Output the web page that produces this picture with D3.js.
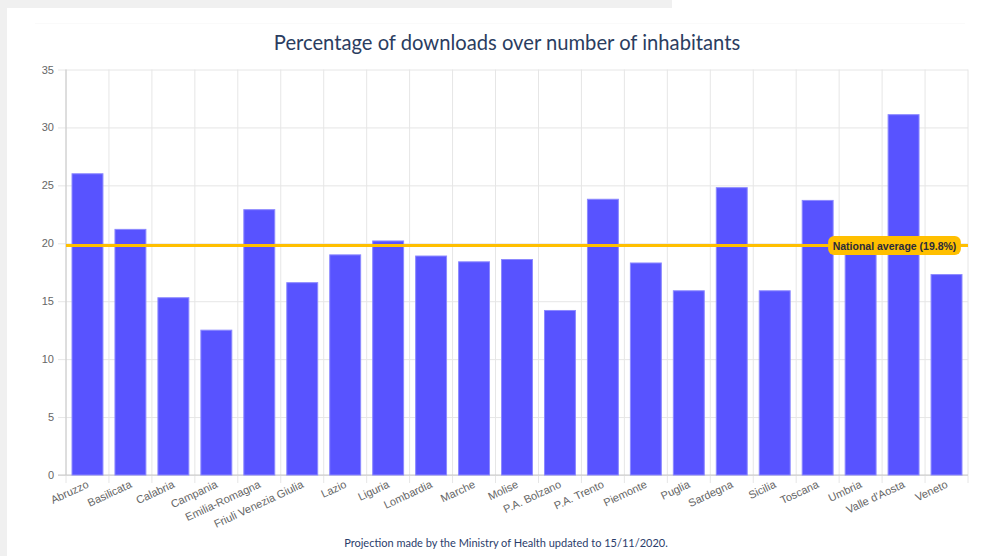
<!DOCTYPE html>
<html>
<head>
<meta charset="utf-8">
<script src="https://cdn.jsdelivr.net/npm/d3@7"></script>
<style>
  html, body { margin: 0; padding: 0; background: #ffffff; }
  svg { display: block; }
</style>
</head>
<body>
<svg id="chart" width="999" height="556"></svg>
<script>
const categories = ["Abruzzo","Basilicata","Calabria","Campania","Emilia-Romagna","Friuli Venezia Giulia","Lazio","Liguria","Lombardia","Marche","Molise","P.A. Bolzano","P.A. Trento","Piemonte","Puglia","Sardegna","Sicilia","Toscana","Umbria","Valle d'Aosta","Veneto"];
const values = [26.0, 21.2, 15.3, 12.5, 22.9, 16.6, 19.0, 20.2, 18.9, 18.4, 18.6, 14.2, 23.8, 18.3, 15.9, 24.8, 15.9, 23.7, 19.3, 31.1, 17.3];
const yTicks = [0, 5, 10, 15, 20, 25, 30, 35];
const nationalAverage = 19.8;
const averageLabel = "National average (19.8%)";
const titleText = "Percentage of downloads over number of inhabitants";
const footerText = "Projection made by the Ministry of Health updated to 15/11/2020.";

const svg = d3.select("#chart");
const W = 999, H = 556;
const plot = { left: 66, right: 968, top: 69.5, bottom: 475 };

// page background pieces
svg.append("rect").attr("x", 0).attr("y", 0).attr("width", W).attr("height", H).attr("fill", "#ffffff");
svg.append("rect").attr("x", 0).attr("y", 0).attr("width", 672).attr("height", 8).attr("fill", "#f0f0f0");
svg.append("rect").attr("x", 0).attr("y", 0).attr("width", 7).attr("height", H).attr("fill", "#f0f0f0");
svg.append("line").attr("x1", 35).attr("x2", 965).attr("y1", 23.5).attr("y2", 23.5).attr("stroke", "#fafafa").attr("stroke-width", 1);

const x = d3.scaleBand().domain(categories).range([plot.left, plot.right]).paddingInner(0.28).paddingOuter(0.14);
const y = d3.scaleLinear().domain([0, 35]).range([plot.bottom, plot.top]);
const step = x.step();

// title
svg.append("text").attr("x", 507).attr("y", 50).attr("text-anchor", "middle")
  .attr("font-family", "Lato, 'Noto Sans', sans-serif").attr("font-size", 20.2)
  .attr("fill", "#2b3d5f").text(titleText);

// horizontal grid + y ticks
const yAxis = d3.axisLeft(y).tickValues(yTicks).tickSize(plot.right - plot.left + 8).tickPadding(4).tickFormat(d3.format("d"));
const gy = svg.append("g").attr("transform", `translate(${plot.right},0)`).call(yAxis);
gy.select(".domain").remove();
gy.selectAll(".tick line").attr("stroke", "#e6e6e6").attr("stroke-width", 1);
gy.selectAll(".tick text").attr("font-family", "Arial, 'Liberation Sans', sans-serif").attr("font-size", 11).attr("fill", "#666666");

// vertical grid lines at category boundaries
const boundaries = d3.range(categories.length + 1).map(i => plot.left + i * step);
svg.append("g").selectAll("line").data(boundaries).join("line")
  .attr("x1", d => d).attr("x2", d => d)
  .attr("y1", plot.top).attr("y2", plot.bottom + 8)
  .attr("stroke", "#e6e6e6").attr("stroke-width", 1);

// axis lines
svg.append("line").attr("x1", plot.left).attr("x2", plot.left).attr("y1", plot.top).attr("y2", plot.bottom)
  .attr("stroke", "#c8c8c8").attr("stroke-width", 1);
svg.append("line").attr("x1", plot.left - 8).attr("x2", plot.right).attr("y1", plot.bottom).attr("y2", plot.bottom)
  .attr("stroke", "#c8c8c8").attr("stroke-width", 1);

// bars
svg.append("g").selectAll("rect").data(categories).join("rect")
  .attr("x", d => x(d))
  .attr("y", (d, i) => y(values[i]))
  .attr("width", x.bandwidth())
  .attr("height", (d, i) => y(0) - y(values[i]))
  .attr("fill", "#5853ff")
  .attr("stroke", "#8c89ff")
  .attr("stroke-width", 1);

// x labels
svg.append("g").selectAll("text").data(categories).join("text")
  .attr("transform", d => `translate(${x(d) + x.bandwidth() / 2 + 2},${plot.bottom + 12}) rotate(-25)`)
  .attr("text-anchor", "end")
  .attr("font-family", "Arial, 'Liberation Sans', sans-serif").attr("font-size", 11)
  .attr("fill", "#666666")
  .text(d => d);

// national average line
const ya = y(nationalAverage);
svg.append("line").attr("x1", plot.left).attr("x2", plot.right).attr("y1", ya).attr("y2", ya)
  .attr("stroke", "#ffbf00").attr("stroke-width", 3);

const lbl = svg.append("g");
const lblText = lbl.append("text").attr("x", 894.5).attr("y", ya + 4).attr("text-anchor", "middle")
  .attr("font-family", "Arial, 'Liberation Sans', sans-serif").attr("font-size", 10.5).attr("font-weight", "bold")
  .attr("fill", "#2b2b3b").text(averageLabel);
const bb = lblText.node().getBBox();
lbl.insert("rect", "text").attr("x", bb.x - 4.5).attr("y", ya - 9.5).attr("width", bb.width + 9).attr("height", 19)
  .attr("rx", 6).attr("fill", "#ffbf00");

// footer
svg.append("text").attr("x", 506).attr("y", 547).attr("text-anchor", "middle")
  .attr("font-family", "Lato, 'Noto Sans', sans-serif").attr("font-size", 11)
  .attr("fill", "#2b3d6b").text(footerText);
</script>
</body>
</html>
